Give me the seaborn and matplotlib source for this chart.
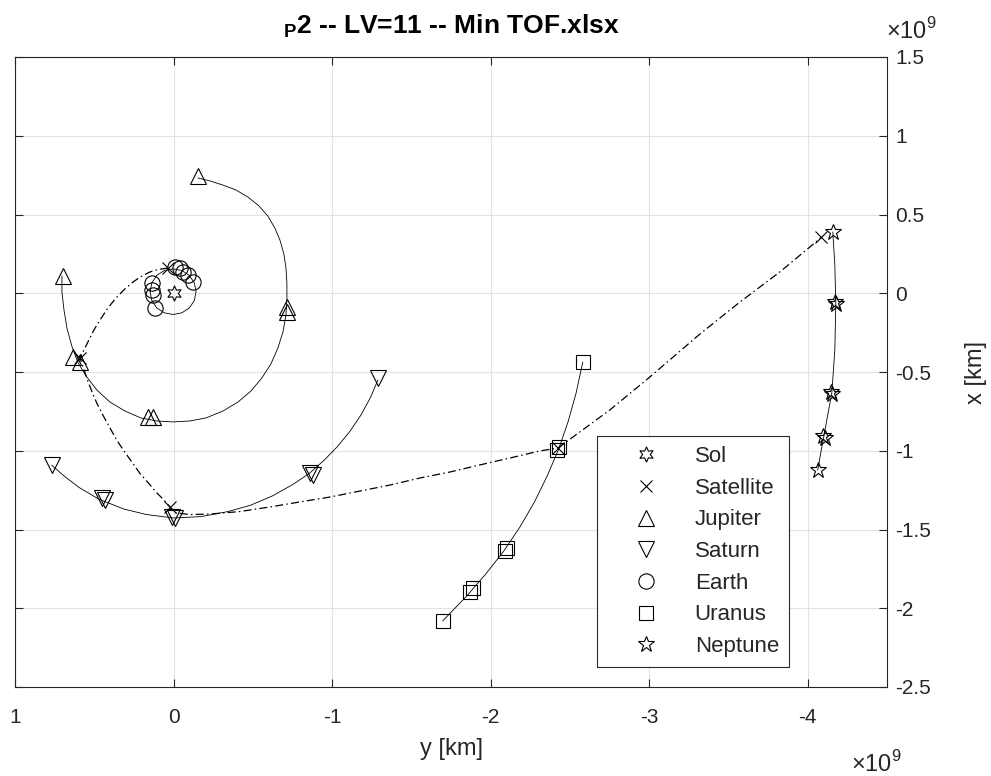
import matplotlib
matplotlib.use("Agg")
import matplotlib.pyplot as plt
from matplotlib.ticker import FuncFormatter, FixedLocator
import seaborn as sns

# positions in units of 1e9 km: h -> horizontal axis "y [km]", v -> vertical axis "x [km]"
sol_h = [0.0]
sol_v = [0.0]

earth_orbit_h = [0.148, 0.137, 0.106, 0.059, 0.003, -0.053, -0.100, -0.131, -0.142,
                 -0.131, -0.100, -0.053, 0.003, 0.059, 0.106, 0.137, 0.148]
earth_orbit_v = [0.010, 0.066, 0.113, 0.144, 0.155, 0.144, 0.113, 0.066, 0.010,
                 -0.046, -0.093, -0.124, -0.135, -0.124, -0.093, -0.046, 0.010]
earth_h = [-0.010, -0.040, -0.061, -0.092, -0.124, 0.138, 0.138, 0.128, 0.117]
earth_v = [0.168, 0.158, 0.137, 0.115, 0.074, 0.062, 0.020, -0.012, -0.095]

jupiter_orbit_h = [0.704, 0.704, 0.691, 0.672, 0.641, 0.603, 0.552, 0.483, 0.401, 0.306, 0.206,
                   0.105, 0.004, -0.103, -0.204, -0.311, -0.406, -0.488, -0.557, -0.614, -0.658,
                   -0.690, -0.709, -0.715, -0.715, -0.709, -0.696, -0.671, -0.639, -0.595, -0.539,
                   -0.469, -0.393, -0.311, -0.230, -0.154]
jupiter_orbit_v = [0.110, 0.008, -0.106, -0.224, -0.338, -0.440, -0.525, -0.615, -0.691, -0.748, -0.792,
                   -0.811, -0.817, -0.811, -0.792, -0.748, -0.691, -0.621, -0.538, -0.449, -0.348,
                   -0.246, -0.138, -0.043, 0.065, 0.160, 0.249, 0.338, 0.414, 0.490, 0.554,
                   0.611, 0.656, 0.687, 0.713, 0.732]
jupiter_h = [0.699, 0.632, 0.590, 0.161, 0.132, -0.713, -0.713, -0.156]
jupiter_v = [0.110, -0.403, -0.435, -0.784, -0.786, -0.085, -0.117, 0.744]

saturn_orbit_h = [0.769, 0.692, 0.596, 0.472, 0.314, 0.171, 0.000, -0.173, -0.343, -0.486,
                  -0.623, -0.753, -0.856, -0.949, -1.035, -1.113, -1.182, -1.241, -1.289]
saturn_orbit_v = [-1.091, -1.159, -1.233, -1.307, -1.370, -1.405, -1.427, -1.418, -1.386, -1.346,
                  -1.287, -1.214, -1.144, -1.061, -0.972, -0.876, -0.773, -0.664, -0.551]
saturn_h = [0.769, 0.453, 0.433, 0.012, -0.009, -0.860, -0.881, -1.289]
saturn_v = [-1.091, -1.300, -1.313, -1.419, -1.427, -1.141, -1.154, -0.538]

uranus_orbit_h = [-1.697, -1.847, -1.968, -2.082, -2.185, -2.277, -2.358, -2.429, -2.489, -2.538, -2.581]
uranus_orbit_v = [-2.081, -1.925, -1.784, -1.638, -1.484, -1.324, -1.157, -0.990, -0.814, -0.638, -0.437]
uranus_h = [-1.697, -1.869, -1.890, -2.089, -2.102, -2.420, -2.432, -2.581]
uranus_v = [-2.081, -1.897, -1.872, -1.637, -1.618, -0.995, -0.978, -0.436]

neptune_orbit_h = [-4.063, -4.082, -4.101, -4.126, -4.152, -4.171, -4.177, -4.171, -4.158]
neptune_orbit_v = [-1.122, -1.014, -0.913, -0.773, -0.633, -0.360, -0.062, 0.180, 0.389]
neptune_h = [-4.063, -4.098, -4.106, -4.148, -4.154, -4.175, -4.179, -4.158]
neptune_v = [-1.122, -0.905, -0.918, -0.627, -0.640, -0.057, -0.068, 0.389]

sat_h = [0.035, 0.590, 0.023, -2.424, -4.086]
sat_v = [0.160, -0.413, -1.355, -0.983, 0.359]

traj_h = [0.035, 0.098, 0.149, 0.206, 0.256, 0.307, 0.363, 0.414, 0.464, 0.502, 0.540, 0.565, 0.590,
          0.565, 0.540, 0.515, 0.483, 0.451, 0.413, 0.357, 0.306, 0.256, 0.212, 0.161, 0.105, 0.060, 0.023,
          -0.016, -0.103, -0.229, -0.419, -0.608, -0.797, -0.986, -1.175, -1.364, -1.554, -1.743,
          -1.932, -2.122, -2.311, -2.424,
          -2.752, -3.004, -3.320, -3.572, -3.824, -4.089]
traj_v = [0.160, 0.151, 0.135, 0.106, 0.071, 0.027, -0.030, -0.094, -0.170, -0.233, -0.309, -0.360, -0.411,
          -0.484, -0.560, -0.624, -0.700, -0.764, -0.833, -0.935, -1.011, -1.081, -1.144, -1.202, -1.268, -1.313, -1.357,
          -1.395, -1.405, -1.402, -1.386, -1.357, -1.325, -1.294, -1.256, -1.218, -1.173, -1.135,
          -1.090, -1.046, -1.001, -0.983,
          -0.741, -0.532, -0.259, -0.056, 0.135, 0.357]

x_ticks = [1, 0, -1, -2, -3, -4]
y_ticks = [1.5, 1, 0.5, 0, -0.5, -1, -1.5, -2, -2.5]

sns.set_style("white")
plt.rcParams["font.family"] = ["Liberation Sans", "DejaVu Sans"]
plt.rcParams["axes.unicode_minus"] = False
plt.rcParams["mathtext.fontset"] = "custom"
plt.rcParams["mathtext.rm"] = "Liberation Sans"
plt.rcParams["mathtext.bf"] = "Liberation Sans:bold"

dark = "#262626"
fig = plt.figure(figsize=(9.91, 7.76), dpi=100)
ax = fig.add_axes([15 / 991, 89 / 776, 872 / 991, 630 / 776])

orbit_kw = dict(sort=False, estimator=None, color="black", linewidth=0.6, ax=ax)
for oh, ov in [(earth_orbit_h, earth_orbit_v), (jupiter_orbit_h, jupiter_orbit_v),
               (saturn_orbit_h, saturn_orbit_v), (uranus_orbit_h, uranus_orbit_v),
               (neptune_orbit_h, neptune_orbit_v)]:
    sns.lineplot(x=oh, y=ov, **orbit_kw)

# satellite trajectory
sns.lineplot(x=traj_h, y=traj_v, sort=False, estimator=None, color="black",
             linewidth=0.9, linestyle=(0, (6.4, 2.6, 1.2, 2.6)), ax=ax)

handles = []
markers = [("Sol", sol_h, sol_v, (6, 1, 0), 11),
           ("Satellite", sat_h, sat_v, "x", 9),
           ("Jupiter", jupiter_h, jupiter_v, "^", 12),
           ("Saturn", saturn_h, saturn_v, "v", 12),
           ("Earth", earth_h, earth_v, "o", 11),
           ("Uranus", uranus_h, uranus_v, "s", 9.5),
           ("Neptune", neptune_h, neptune_v, "*", 12)]
for name, mh, mv, mk, ms in markers:
    sns.lineplot(x=mh, y=mv, sort=False, estimator=None, linestyle="", marker=mk,
                 markersize=ms, markerfacecolor="none", markeredgecolor="black",
                 markeredgewidth=0.8, color="black", ax=ax)
    line = ax.lines[-1]
    line.set_label(name)
    handles.append(line)

ax.set_xlim(1, -4.5)
ax.set_ylim(-2.5, 1.5)
ax.xaxis.set_major_locator(FixedLocator(x_ticks))
ax.yaxis.set_major_locator(FixedLocator(y_ticks))
fmt = FuncFormatter(lambda val, pos: "{:g}".format(val))
ax.xaxis.set_major_formatter(fmt)
ax.yaxis.set_major_formatter(fmt)
ax.yaxis.tick_right()
ax.yaxis.set_label_position("right")
ax.tick_params(axis="both", direction="in", length=6, width=0.8, color=dark,
               labelcolor=dark, labelsize=15, top=True, bottom=True, left=True, right=True)
ax.tick_params(axis="x", pad=15)
ax.tick_params(axis="y", pad=6, labelleft=False, labelright=True)
ax.grid(True, color="#e3e3e3", linewidth=0.8)
ax.set_axisbelow(True)
for side in ["top", "bottom", "left", "right"]:
    ax.spines[side].set_color(dark)
    ax.spines[side].set_linewidth(0.8)

ax.set_xlabel("y [km]", fontsize=17, color=dark, labelpad=8)
ax.set_ylabel("x [km]", fontsize=17, color=dark, labelpad=24)
ax.set_title(r"$_{\mathbf{P}}$2 -- LV=11 -- Min TOF.xlsx", fontsize=19,
             fontweight="bold", color="black", pad=17)

fig.text(902 / 991, 1 - 764 / 776, r"$\times10^{9}$", ha="right", va="center",
         fontsize=17, color=dark)
fig.text(886 / 991, 1 - 31 / 776, r"$\times10^{9}$", ha="left", va="center",
         fontsize=17, color=dark)

leg = ax.legend(handles=handles, loc="lower right", bbox_to_anchor=(0.8876, 0.0317),
                fontsize=16, frameon=True, fancybox=False, framealpha=1,
                edgecolor=dark, borderpad=0.45, handlelength=3.5,
                handletextpad=0.45, labelspacing=0.48, borderaxespad=0)
leg.get_frame().set_linewidth(0.8)
for t in leg.get_texts():
    t.set_color(dark)

fig.savefig("out.png", dpi=100)
